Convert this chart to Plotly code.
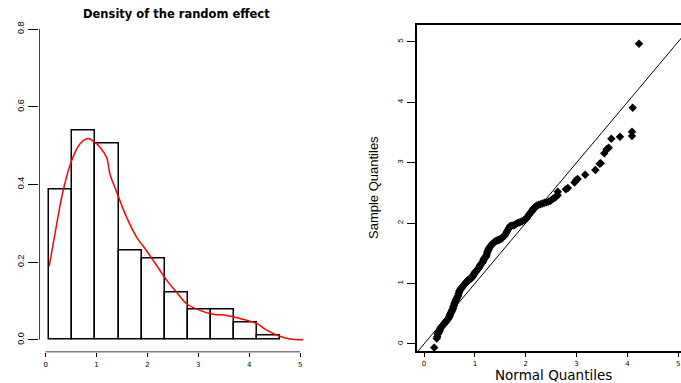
import plotly.graph_objects as go

W, H = 681, 383

# ---------------- data ----------------
bin_edges = [0.07, 0.524, 0.978, 1.432, 1.886, 2.34, 2.794, 3.248, 3.702, 4.156, 4.61]
hist_density = [0.386, 0.538, 0.506, 0.231, 0.209, 0.122, 0.078, 0.078, 0.045, 0.011]

dens_x = [0.07, 0.20, 0.346, 0.51, 0.674, 0.837, 0.95, 1.067, 1.198, 1.263, 1.38, 1.59,
          1.79, 1.98, 2.18, 2.38, 2.57, 2.77, 3.03, 3.29, 3.56, 3.82, 4.15, 4.34, 4.60, 4.80, 5.06]
dens_y = [0.189, 0.285, 0.385, 0.461, 0.504, 0.518, 0.510, 0.496, 0.470, 0.427, 0.386, 0.316,
          0.264, 0.230, 0.192, 0.153, 0.123, 0.093, 0.076, 0.066, 0.063, 0.055, 0.042, 0.025, 0.0095, 0.002, 0.0]

qq_x = [0.20, 0.25, 0.26, 0.27, 0.28, 0.29, 0.30, 0.31, 0.32, 0.33, 0.34, 0.35, 0.36, 0.37,
        0.38, 0.39, 0.40, 0.41, 0.42, 0.43, 0.44, 0.45, 0.46, 0.47, 0.48, 0.49, 0.50, 0.51,
        0.52, 0.53, 0.54, 0.55, 0.56, 0.57, 0.58, 0.59, 0.60, 0.61, 0.62, 0.63, 0.64, 0.65,
        0.66, 0.67, 0.68, 0.69, 0.70, 0.71, 0.72, 0.73, 0.74, 0.75, 0.76, 0.77, 0.78, 0.79,
        0.80, 0.81, 0.82, 0.83, 0.84, 0.85, 0.86, 0.87, 0.88, 0.89, 0.90, 0.91, 0.92, 0.93,
        0.94, 0.95, 0.96, 0.97, 0.98, 0.99,
        1.00, 1.01, 1.02, 1.03, 1.04, 1.05, 1.06, 1.07, 1.08, 1.09, 1.10, 1.11, 1.12, 1.13,
        1.14, 1.15, 1.16, 1.17, 1.18, 1.19, 1.20, 1.21, 1.22, 1.23, 1.24, 1.25, 1.26, 1.27,
        1.28, 1.29, 1.31, 1.33, 1.35, 1.37, 1.39, 1.41, 1.43, 1.45, 1.47, 1.49, 1.51, 1.53,
        1.55, 1.57, 1.59, 1.61, 1.63, 1.65, 1.67, 1.69,
        1.72, 1.75, 1.78, 1.81, 1.84, 1.87, 1.90, 1.93, 1.96, 1.99, 2.02, 2.04, 2.06, 2.08,
        2.10, 2.12, 2.14, 2.16, 2.19, 2.22, 2.25, 2.29, 2.33, 2.37, 2.41, 2.45, 2.49, 2.53,
        2.57, 2.60, 2.63, 2.63,
        2.79, 2.83, 2.96, 2.99, 3.02, 3.17, 3.37, 3.455, 3.475, 3.546, 3.593, 3.632, 3.684,
        3.854, 4.09, 4.09, 4.104, 4.228]
qq_y = [-0.06, 0.09, 0.12, 0.16, 0.18, 0.19, 0.21, 0.23, 0.25, 0.27, 0.28, 0.29, 0.30, 0.31,
        0.32, 0.33, 0.34, 0.35, 0.36, 0.37, 0.38, 0.39, 0.40, 0.41, 0.42, 0.44, 0.46, 0.48,
        0.50, 0.52, 0.53, 0.55, 0.57, 0.59, 0.62, 0.64, 0.67, 0.69, 0.71, 0.73, 0.75, 0.76,
        0.78, 0.80, 0.83, 0.86, 0.88, 0.89, 0.91, 0.92, 0.93, 0.94, 0.95, 0.96, 0.97, 0.98,
        0.99, 1.00, 1.01, 1.02, 1.03, 1.04, 1.05, 1.05, 1.06, 1.07, 1.07, 1.08, 1.08, 1.09,
        1.10, 1.11, 1.12, 1.14, 1.15, 1.17,
        1.18, 1.19, 1.20, 1.21, 1.22, 1.23, 1.24, 1.25, 1.26, 1.28, 1.30, 1.31, 1.32, 1.33,
        1.34, 1.35, 1.37, 1.39, 1.41, 1.42, 1.43, 1.44, 1.45, 1.47, 1.50, 1.53, 1.55, 1.57,
        1.58, 1.60, 1.62, 1.645, 1.66, 1.675, 1.69, 1.70, 1.71, 1.715, 1.72, 1.73, 1.74, 1.75,
        1.765, 1.78, 1.80, 1.83, 1.86, 1.89, 1.92, 1.95,
        1.955, 1.96, 1.97, 1.985, 2.00, 2.01, 2.02, 2.03, 2.045, 2.06, 2.08, 2.11, 2.14, 2.16,
        2.18, 2.20, 2.23, 2.25, 2.27, 2.29, 2.30, 2.31, 2.325, 2.335, 2.345, 2.355, 2.37, 2.40,
        2.42, 2.44, 2.46, 2.52,
        2.56, 2.58, 2.67, 2.71, 2.73, 2.80, 2.88, 2.98, 2.99, 3.154, 3.22, 3.248, 3.396,
        3.43, 3.44, 3.512, 3.909, 4.968]

ticks_left_x = [0, 1, 2, 3, 4, 5]
ticks_left_y = [0.0, 0.2, 0.4, 0.6, 0.8]
ticks_right = [0, 1, 2, 3, 4, 5]

# ---------------- helpers ----------------
def px(x):
    return x / W

def py(y):
    return 1 - y / H

bin_centers = [(a + b) / 2 for a, b in zip(bin_edges[:-1], bin_edges[1:])]
bin_widths = [b - a for a, b in zip(bin_edges[:-1], bin_edges[1:])]

fig = go.Figure()

fig.add_trace(go.Bar(
    x=bin_centers, y=hist_density, width=bin_widths,
    marker=dict(color="white", line=dict(color="black", width=1.5)),
    xaxis="x", yaxis="y", showlegend=False,
))
fig.add_trace(go.Scatter(
    x=dens_x, y=dens_y, mode="lines", line=dict(color="red", width=1.5, shape="spline"),
    xaxis="x", yaxis="y", showlegend=False,
))

fig.add_trace(go.Scatter(
    x=[-1, 6], y=[-1, 6], mode="lines", line=dict(color="black", width=1),
    xaxis="x2", yaxis="y2", showlegend=False,
))
fig.add_trace(go.Scatter(
    x=qq_x, y=qq_y, mode="markers",
    marker=dict(symbol="diamond", size=6.5, color="black"),
    xaxis="x2", yaxis="y2", showlegend=False,
))

tickfont_x = dict(family="DejaVu Sans", size=7, color="black")
tickfont_y = dict(family="Liberation Sans Narrow, Liberation Sans, Arial", size=9, color="black")

fig.update_layout(
    width=W, height=H,
    margin=dict(l=0, r=0, t=0, b=0),
    paper_bgcolor="white", plot_bgcolor="white",
    bargap=0,
    xaxis=dict(
        domain=[px(39), px(313.4)], range=[-0.13, 5.26],
        tickvals=ticks_left_x, ticktext=[str(v) for v in ticks_left_x],
        ticks="outside", ticklen=4, tickwidth=1, tickcolor="black",
        showgrid=False, zeroline=False, showline=False,
        tickfont=tickfont_x, anchor="y", ticklabelstandoff=1,
    ),
    yaxis=dict(
        domain=[py(352.3), py(16.6)], range=[-0.032, 0.832],
        tickvals=ticks_left_y, ticktext=["0.0", "0.2", "0.4", "0.6", "0.8"],
        ticks="outside", ticklen=10, tickwidth=1, tickcolor="black",
        tickangle=-90,
        showgrid=False, zeroline=False, showline=False,
        tickfont=tickfont_y, anchor="x",
    ),
    xaxis2=dict(
        domain=[px(417.3), 1.0], range=[-0.132, 5.054],
        tickvals=ticks_right, ticktext=[str(v) for v in ticks_right],
        ticks="outside", ticklen=4, tickwidth=1, tickcolor="black",
        showgrid=False, zeroline=False, showline=True, linecolor="black", linewidth=1.5,
        mirror=True,
        tickfont=tickfont_x, anchor="y2", ticklabelstandoff=1,
    ),
    yaxis2=dict(
        domain=[py(351), py(25)], range=[-0.116, 5.277],
        tickvals=ticks_right, ticktext=[str(v) for v in ticks_right],
        ticks="outside", ticklen=9, tickwidth=1, tickcolor="black",
        tickangle=-90,
        showgrid=False, zeroline=False, showline=True, linecolor="black", linewidth=1.5,
        tickfont=dict(family="Liberation Sans Narrow, Liberation Sans, Arial", size=8, color="black"),
        anchor="x2",
    ),
    shapes=[
        dict(type="line", xref="x", yref="y", x0=-0.13, x1=-0.13, y0=0, y1=0.8,
             line=dict(color="black", width=1.5)),
        dict(type="line", xref="x", yref="y", x0=0, x1=5, y0=-0.032, y1=-0.032,
             line=dict(color="black", width=1.5)),
    ],
    annotations=[
        dict(text="<b>Density of the random effect</b>", x=px(176.7), y=py(14.3),
             xref="paper", yref="paper", showarrow=False, xanchor="center", yanchor="middle",
             font=dict(family="DejaVu Sans", size=11.5, color="black")),
        dict(text="Sample Quantiles", x=px(373), y=py(188), textangle=-90,
             xref="paper", yref="paper", showarrow=False, xanchor="center", yanchor="middle",
             font=dict(family="Liberation Sans Narrow, Liberation Sans, Arial", size=13, color="black")),
        dict(text="Normal Quantiles", x=px(553.3), y=py(374.5),
             xref="paper", yref="paper", showarrow=False, xanchor="center", yanchor="middle",
             font=dict(family="DejaVu Sans", size=13.5, color="black")),
    ],
)

fig.write_html("out.html")
